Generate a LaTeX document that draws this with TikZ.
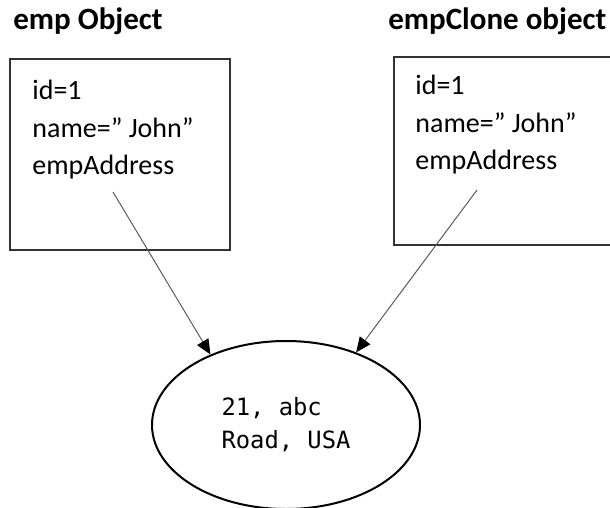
\documentclass[tikz,border=0pt]{standalone}
\usepackage{fontspec}
\setmainfont{Carlito}
\newfontfamily\addrfont{DejaVu Sans Mono}
\usepackage{xcolor}
\usepackage{tikz}
\usetikzlibrary{positioning,arrows.meta,shapes.geometric}
\definecolor{boxgray}{RGB}{50,50,50}
\definecolor{linegray}{RGB}{90,90,90}
\tikzset{
  title/.style={anchor=base west, inner sep=0pt,
                font=\fontsize{15.5}{18}\selectfont\bfseries},
  objbox/.style={draw=boxgray, line width=0.9pt, inner sep=0pt,
                 minimum width=110pt, minimum height=95.5pt},
  fields/.style={anchor=north west, inner sep=0pt, align=left,
                 font=\fontsize{14}{18.75}\selectfont},
  addrnode/.style={ellipse, draw, line width=1pt, inner sep=0pt,
                   minimum width=134pt, minimum height=84pt, align=left,
                   font=\addrfont\fontsize{11.9}{16.5}\selectfont},
  ref/.style={-{Triangle[length=7.5pt,width=6.5pt,color=black,fill=black]},
              draw=linegray, line width=0.5pt},
}

\begin{document}
\begin{tikzpicture}[x=0.5pt, y=-0.5pt]
  \clip (0,0) rectangle (610,508);

  \node[title] (empT)   at (13,30)  {emp Object};
  \node[title] (cloneT) at (388,30) {empClone object};

  \node[objbox] (emp)   at (120,154.5) {};
  \node[objbox, minimum width=118pt, minimum height=94pt] (clone) at (512,151) {};

  \node[fields] (empF)   at (32,80)  {id=1\\name=” John”\\empAddress};
  \node[fields] (cloneF) at (415,75) {id=1\\name=” John”\\empAddress};

  \node[addrnode] (addr) at (286,425) {21, abc\\Road, USA};

  \coordinate (empRef)   at (113,192);
  \coordinate (cloneRef) at (477,190);
  \draw[ref] (empRef) -- (addr.137);
  \draw[ref] (cloneRef) -- (addr.46);
\end{tikzpicture}
\end{document}
